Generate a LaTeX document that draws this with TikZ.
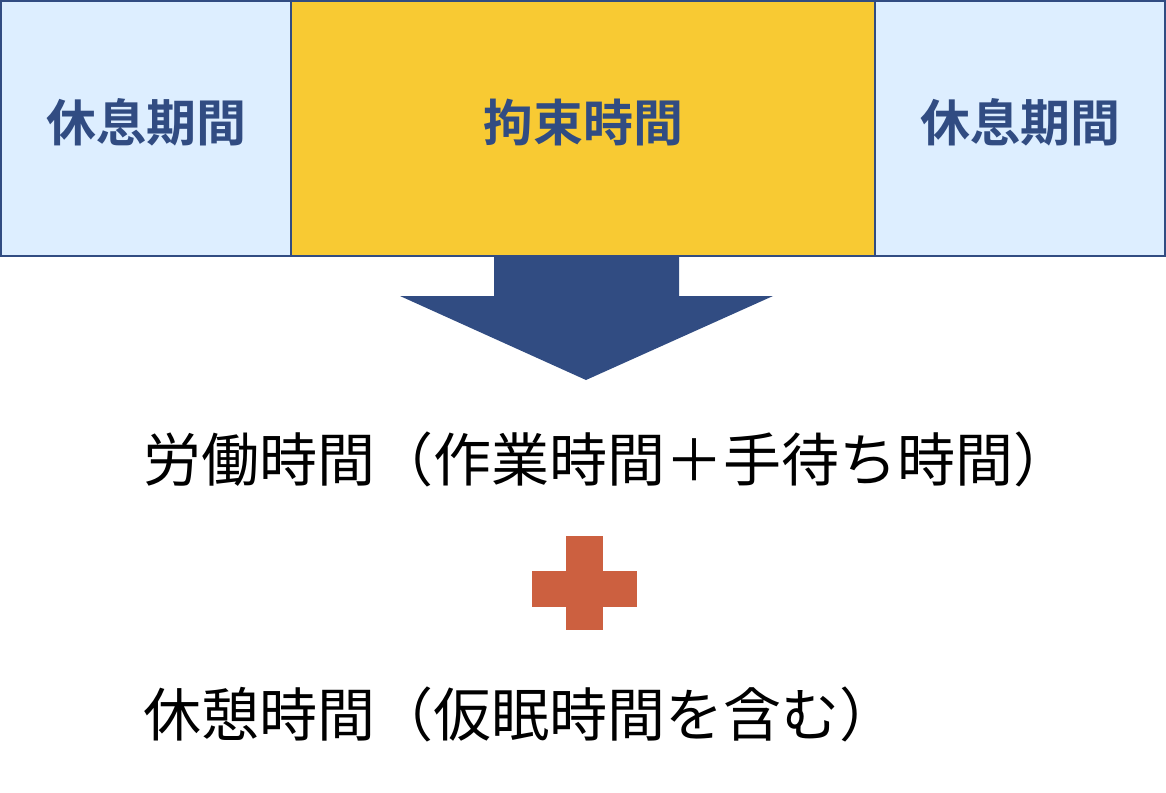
\documentclass[tikz,border=0pt]{standalone}
\usepackage{fontspec}
\newfontfamily\cjk{Noto Sans CJK JP}
\newfontfamily\cjkb{Noto Sans CJK JP Bold}
\definecolor{lblue}{HTML}{DDEEFF}
\definecolor{gold}{HTML}{F8CA33}
\definecolor{navy}{HTML}{314C82}
\definecolor{rust}{HTML}{CC6040}
\tikzset{box/.style={draw=navy,line width=1.5pt,inner sep=0pt},
 btxt/.style={text=navy,font=\cjkb\fontsize{50}{56}\selectfont},
 ltxt/.style={anchor=west,inner sep=0pt,font=\cjk\fontsize{58}{64}\selectfont}}
\begin{document}
\begin{tikzpicture}[x=1pt,y=-1pt]
\useasboundingbox (0,0) rectangle (1166,792);
\filldraw[box,fill=lblue] (1,1) rectangle (291,256);
\filldraw[box,fill=gold] (291,1) rectangle (875,256);
\filldraw[box,fill=lblue] (875,1) rectangle (1165,256);
\node[btxt] (l) at (146,122) {休息期間};
\node[btxt] (m) at (583,122) {拘束時間};
\node[btxt] (r) at (1020,122) {休息期間};
\fill[navy] (494,256) -- (679,256) -- (679,296) -- (773,296) -- (586,380) -- (400,296) -- (494,296) -- cycle;
\node[ltxt] (t1) at (143,459) {労働時間（作業時間＋手待ち時間）};
\fill[rust] (566,536) rectangle (603,630);
\fill[rust] (532,571) rectangle (637,607);
\node[ltxt] (t2) at (143,714) {休憩時間（仮眠時間を含む）};
\end{tikzpicture}
\end{document}
